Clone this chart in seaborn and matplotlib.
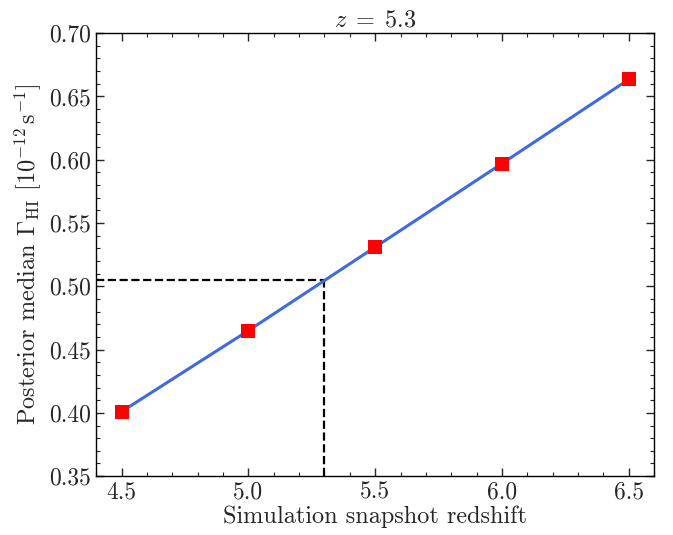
import numpy as np
import pandas as pd
import matplotlib
matplotlib.use("Agg")
import matplotlib.pyplot as plt
from matplotlib.ticker import MultipleLocator, FormatStrFormatter
import seaborn as sns

# Snapshot redshifts and posterior median photoionisation rates
snapshot_z = [4.5, 5.0, 5.5, 6.0, 6.5]
gamma_median = [0.401, 0.465, 0.531, 0.597, 0.6635]
target_z = 5.3

sns.set_style("ticks")
plt.rcParams.update({
    "font.family": ["cmr10", "DejaVu Serif"],
    "mathtext.fontset": "cm",
    "axes.formatter.use_mathtext": True,
    "axes.unicode_minus": False,
    "xtick.direction": "in",
    "ytick.direction": "in",
    "xtick.top": True,
    "ytick.right": True,
    "axes.edgecolor": "black",
    "axes.linewidth": 1.0,
})

df = pd.DataFrame({"z": snapshot_z, "gamma": gamma_median})
gamma_at_target = float(np.interp(target_z, snapshot_z, gamma_median))

fig, ax = plt.subplots(figsize=(6.73, 5.35), dpi=100)
fig.subplots_adjust(left=0.143, right=0.972, top=0.938, bottom=0.11)

sns.lineplot(data=df, x="z", y="gamma", ax=ax, color="#4169E1", lw=2.2, zorder=2)
sns.scatterplot(data=df, x="z", y="gamma", ax=ax, marker="s", s=90,
                color="red", edgecolor="red", linewidth=0, zorder=3)

# Read-off lines at the target redshift
ax.plot([target_z, target_z], [0.35, gamma_at_target], ls="--", color="black", lw=1.6, zorder=1)
ax.plot([4.4, target_z], [gamma_at_target, gamma_at_target], ls="--", color="black", lw=1.6, zorder=1)

ax.set_xlim(4.4, 6.6)
ax.set_ylim(0.35, 0.70)
ax.xaxis.set_major_locator(MultipleLocator(0.5))
ax.xaxis.set_minor_locator(MultipleLocator(0.1))
ax.yaxis.set_major_locator(MultipleLocator(0.05))
ax.yaxis.set_minor_locator(MultipleLocator(0.01))
ax.xaxis.set_major_formatter(FormatStrFormatter("%.1f"))
ax.yaxis.set_major_formatter(FormatStrFormatter("%.2f"))
ax.tick_params(which="major", length=6, width=1.0, labelsize=17)
ax.tick_params(which="minor", length=3, width=0.8)
for s in ax.spines.values():
    s.set_visible(True)

ax.set_xlabel("Simulation snapshot redshift", fontsize=17.5, labelpad=2)
ax.set_ylabel(r"Posterior median $\Gamma_{\rm HI}$ $[10^{-12}\,{\rm s}^{-1}]$", fontsize=17.5, labelpad=4)
ax.set_title(r"$z\;=\;5.3$", fontsize=17.5, pad=5)

fig.savefig("out.png", dpi=100)
